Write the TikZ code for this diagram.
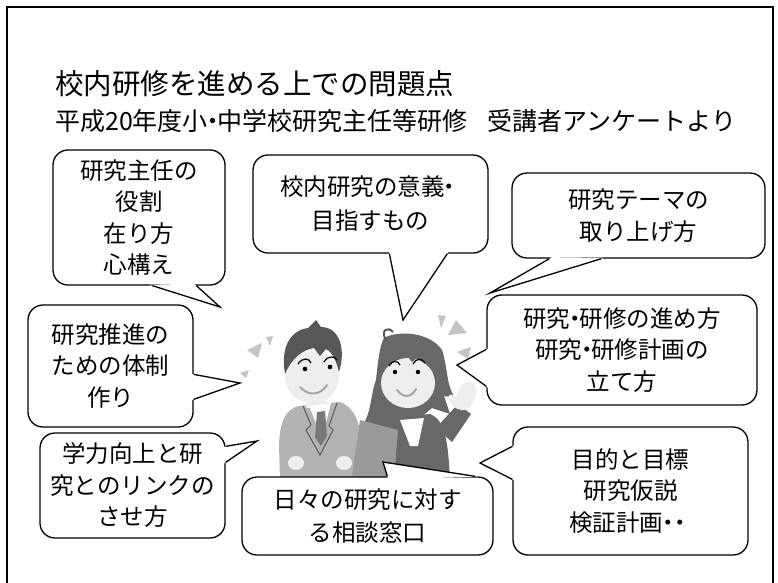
\documentclass[tikz,border=0pt]{standalone}
\usepackage{fontspec}
\newfontfamily\jp{Noto Sans CJK JP}
\usetikzlibrary{calc}

\definecolor{hairgray}{HTML}{575757}
\definecolor{skin}{HTML}{EEEEEE}
\definecolor{suitgray}{HTML}{B3B3B3}
\definecolor{jacketgray}{HTML}{686868}
\definecolor{foldergray}{HTML}{9A9A9A}
\definecolor{sparkgray}{HTML}{C4C4C4}

% tail of a speech bubble: base point, tip, base point
\newcommand\bubbletail[3]{%
  \fill[white] ($(#1)!-3pt!(#2)$) -- (#2) -- ($(#3)!-3pt!(#2)$) -- cycle;
  \draw[tailline] (#1) -- (#2) -- (#3);}
% narrow middle dot
\newcommand\nakaguro{\kern-.3em・\kern-.3em}

\begin{document}
\begin{tikzpicture}[
        x=1pt, y=-1pt,
        bubble/.style={draw, fill=white, line width=1.3pt, rounded corners=15pt,
            align=center, inner sep=0pt, font=\jp\fontsize{23.5}{31.5}\selectfont},
        tailline/.style={line width=1.3pt, line join=miter},
        spark/.style={fill=sparkgray},
        face/.style={line width=1.2pt}
    ]
    \useasboundingbox (0,0) rectangle (778,582);
    % slide frame
    \draw[line width=1.8pt] (7,592) -- (7,7) -- (773,7) -- (773,592);

    % Headings
    \node[anchor=west, inner sep=0pt, font=\jp\fontsize{28.5}{34}\selectfont] (title)
        at (55,84) {校内研修を進める上での問題点};
    \node[anchor=west, inner sep=0pt, font=\jp\fontsize{25}{30}\selectfont] (subtitle)
        at (55,121) {平成20年度小\nakaguro 中学校研究主任等研修\hspace{0.8em}受講者アンケートより};

    % Sparkles
    \fill[spark] (247,350) -- (262,343) -- (258,358) -- cycle;
    \fill[spark] (266,337) -- (273,336) -- (270,346) -- cycle;
    \fill[spark] (240,373) -- (249,370) -- (246,378) -- cycle;
    \fill[spark] (438,315) -- (446,316) -- (441,328) -- cycle;
    \fill[spark] (448,335) -- (456,320) -- (467,333) -- cycle;
    \fill[spark] (457,352) -- (471,347) -- (468,359) -- cycle;

    % Man
    \fill[suitgray] (298,406) -- (340,402) .. controls (356,408) and (360,425) .. (362,445)
        -- (358,480) -- (280,480) -- (279,445) .. controls (280,420) and (286,410) .. (298,406) -- cycle;
    \fill[skin] (306,392) rectangle (326,408);
    \fill[white] (309,406) -- (331,403) -- (322,438) -- cycle;
    \fill[hairgray!80] (317,412) -- (325,411) -- (327,436) -- (321,446) -- (315,437) -- cycle;
    \draw[gray!70!black, line width=1pt] (303,406) -- (311,425) -- (306,430) -- (320,455)
        -- (333,430) -- (329,426) -- (337,403);
    \fill[skin] (296,463) ellipse (8 and 7);
    \fill[skin] (344,463) ellipse (8 and 7);
    \fill[skin] (312,377) ellipse (27 and 26);
    \fill[hairgray] (285,374) .. controls (280,345) and (292,330) .. (308,328)
        -- (316,320) -- (321,327) .. controls (340,327) and (346,350) .. (339,372)
        .. controls (336,360) and (332,352) .. (326,349) -- (320,356) -- (314,348)
        .. controls (302,350) and (292,358) .. (285,374) -- cycle;
    \draw[face] (298,364) .. controls (303,357) and (309,358) .. (311,363);
    \draw[face] (324,362) .. controls (328,355) and (335,356) .. (337,360);
    \fill (305,369) circle (2.3);
    \fill (330,367) circle (2.3);
    \draw[gray!70, line width=2pt, line cap=round] (300,387) .. controls (308,396) and (320,396) .. (327,385);

    % Woman
    \fill[hairgray!90] (384,338) .. controls (398,330) and (430,332) .. (442,350)
        .. controls (448,368) and (446,385) .. (455,398) -- (444,396) -- (450,414) -- (432,408)
        -- (420,418) -- (398,418)
        .. controls (384,426) and (376,440) .. (366,440) -- (372,428) -- (362,426)
        .. controls (372,412) and (370,396) .. (376,380)
        .. controls (378,360) and (380,345) .. (384,338) -- cycle;
    \draw[hairgray, line width=2pt] (386,340) .. controls (380,330) and (388,326) .. (393,332);
    \fill[jacketgray] (388,418) -- (430,414) .. controls (445,420) and (448,440) .. (450,480)
        -- (378,480) .. controls (378,450) and (380,428) .. (388,418) -- cycle;
    \fill[jacketgray] (436,428) -- (452,442) -- (471,414) -- (458,404) -- cycle;
    \fill[skin, rotate around={-20:(466,396)}] (466,396) ellipse (9 and 15);
    \fill[skin, rotate around={40:(455,402)}] (455,402) ellipse (4 and 9);
    \fill[white] (400,420) -- (424,418) -- (418,446) -- (410,446) -- cycle;
    \fill[foldergray] (360,420) -- (398,430) -- (394,480) -- (352,476) -- cycle;
    \fill[skin] (408,383) ellipse (27 and 25);
    \fill[hairgray!90] (382,374) .. controls (384,348) and (400,340) .. (412,342)
        .. controls (428,342) and (436,356) .. (435,374)
        .. controls (430,362) and (424,358) .. (418,357) -- (412,362) -- (408,357)
        .. controls (396,358) and (388,364) .. (382,374) -- cycle;
    \draw[face] (389,366) .. controls (392,360) and (398,360) .. (400,365);
    \draw[face] (413,364) .. controls (416,358) and (422,358) .. (425,363);
    \fill (395,372) circle (2.2);
    \fill (418,372) circle (2.2);
    \draw[gray!70, line width=2pt, line cap=round] (397,390) .. controls (403,398) and (411,398) .. (416,389);

    % Define bubbles
    \node[bubble, minimum width=172pt, minimum height=135pt] (role) at (139,217.5)
        {研究主任の\\役割\\在り方\\心構え};
    \node[bubble, minimum width=235pt, minimum height=98pt,
        font=\jp\fontsize{23.5}{34}\selectfont] (aim) at (370.5,204)
        {校内研究の意義\kern-.3em・\\目指すもの};
    \node[bubble, minimum width=253pt, minimum height=85pt] (theme) at (638.5,215.5)
        {研究テーマの\\取り上げ方};
    \node[bubble, minimum width=270pt, minimum height=110pt] (plan) at (622,350)
        {研究\nakaguro 研修の進め方\\研究\nakaguro 研修計画の\\立て方};
    \node[bubble, minimum width=235pt, minimum height=128pt] (goal) at (630.5,491)
        {目的と目標\\研究仮説\\検証計画\kern-.3em・\kern-.5em・};
    \node[bubble, minimum width=165pt, minimum height=122pt] (system) at (110.5,366)
        {研究推進の\\ための体制\\作り};
    \node[bubble, minimum width=185pt, minimum height=105pt] (link) at (132.5,485.5)
        {学力向上と研\\究とのリンクの\\させ方};
    \node[bubble, minimum width=251pt, minimum height=78pt,
        font=\jp\fontsize{23.5}{33}\selectfont] (consult) at (367.5,516)
        {日々の研究に対す\\る相談窓口};

    % Tail points
    \coordinate (role-a) at ($(role.south west)+(100,0)$);
    \coordinate (role-b) at ($(role.south west)+(144,0)$);
    \coordinate (role-tip) at (220,307);
    \coordinate (aim-a) at ($(aim.south west)+(137,0)$);
    \coordinate (aim-b) at ($(aim.south west)+(195,0)$);
    \coordinate (aim-tip) at (403,320);
    \coordinate (theme-a) at ($(theme.south west)+(38,0)$);
    \coordinate (theme-b) at ($(theme.south west)+(90,0)$);
    \coordinate (theme-tip) at (490,293);
    \coordinate (plan-a) at ($(plan.north west)+(0,55)$);
    \coordinate (plan-b) at ($(plan.north west)+(0,92)$);
    \coordinate (plan-tip) at (457,365);
    \coordinate (goal-a) at ($(goal.north west)+(0,20)$);
    \coordinate (goal-b) at ($(goal.north west)+(0,53)$);
    \coordinate (goal-tip) at (480,463);
    \coordinate (system-a) at ($(system.north east)+(0,70)$);
    \coordinate (system-b) at ($(system.north east)+(0,95)$);
    \coordinate (system-tip) at (240,383);
    \coordinate (link-a) at ($(link.north east)+(0,14)$);
    \coordinate (link-b) at ($(link.north east)+(0,30)$);
    \coordinate (link-tip) at (257,441);
    \coordinate (consult-a) at ($(consult.north west)+(146,0)$);
    \coordinate (consult-b) at ($(consult.north west)+(234,0)$);
    \coordinate (consult-tip) at (383,462);

    % Draw tails
    \bubbletail{role-a}{role-tip}{role-b}
    \bubbletail{aim-a}{aim-tip}{aim-b}
    \bubbletail{theme-a}{theme-tip}{theme-b}
    \bubbletail{plan-a}{plan-tip}{plan-b}
    \bubbletail{goal-a}{goal-tip}{goal-b}
    \bubbletail{system-a}{system-tip}{system-b}
    \bubbletail{link-a}{link-tip}{link-b}
    \bubbletail{consult-a}{consult-tip}{consult-b}
\end{tikzpicture}
\end{document}
